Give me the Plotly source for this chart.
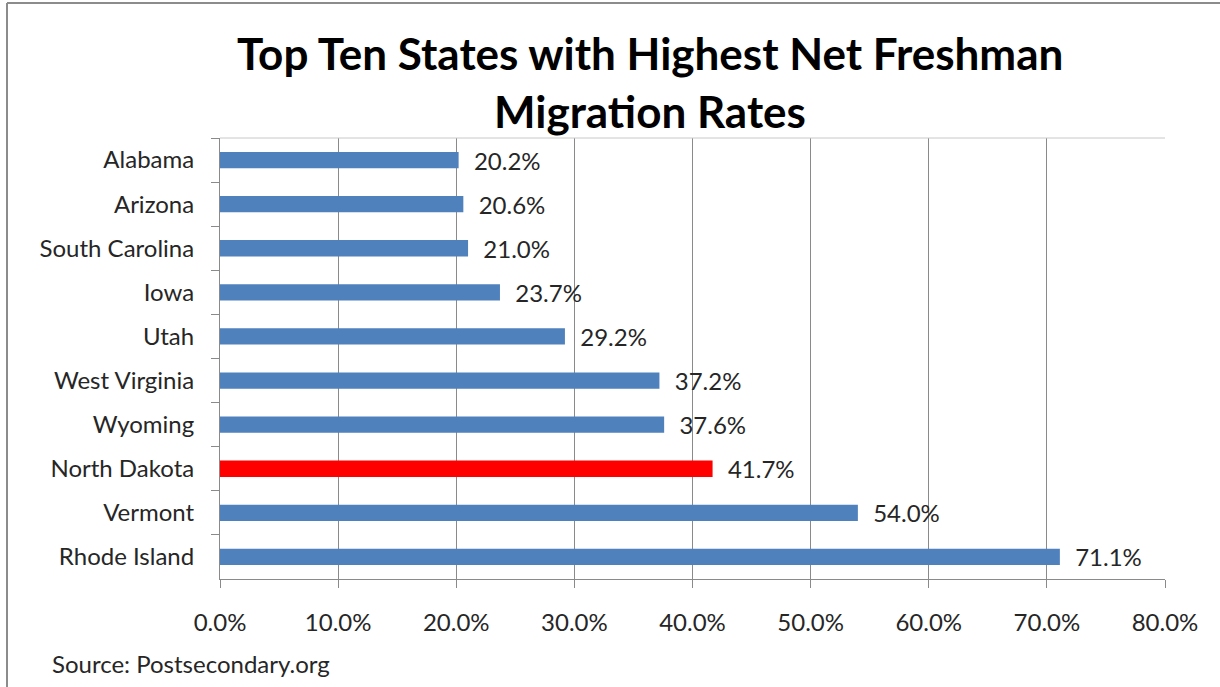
import plotly.graph_objects as go

states = ["Alabama", "Arizona", "South Carolina", "Iowa", "Utah",
          "West Virginia", "Wyoming", "North Dakota", "Vermont", "Rhode Island"]
rates = [20.2, 20.6, 21.0, 23.7, 29.2, 37.2, 37.6, 41.7, 54.0, 71.1]
highlight = "North Dakota"
x_ticks = [0, 10, 20, 30, 40, 50, 60, 70, 80]
x_tick_labels = [f"{v:.1f}%" for v in x_ticks]
title_lines = ["Top Ten States with Highest Net Freshman", "Migration Rates"]
source = "Source: Postsecondary.org"

W, H = 1220, 687
L, R, T, B = 220, 55, 138, 108
pw, ph = W - L - R, H - T - B

def px_x(p):
    return (p - L) / pw

def px_y(p):
    return (H - B - p) / ph

FONT = "Lato, 'Open Sans', sans-serif"
TXT = "#262626"
GRID = "#8a8a8a"

colors = ["#FF0000" if s == highlight else "#4F81BD" for s in states]

fig = go.Figure(go.Bar(
    x=rates, y=states, orientation="h",
    marker=dict(color=colors, line=dict(width=0)),
    text=[f"\u00a0\u00a0{v:.1f}%" for v in rates],
    textposition="outside", constraintext="none",
    textfont=dict(family=FONT, size=24, color=TXT),
    cliponaxis=False,
))

# title as two centred lines
annotations = [
    dict(text=f"<b>{line}</b>", showarrow=False, xref="paper", yref="paper",
         x=px_x(650), y=px_y(yc), xanchor="center", yanchor="middle",
         font=dict(family=FONT, size=44, color="#000"))
    for line, yc in zip(title_lines, [53, 111])
]
annotations.append(dict(
    text=source, showarrow=False,
    xref="paper", yref="paper", x=px_x(50), y=px_y(663),
    xanchor="left", yanchor="middle",
    font=dict(family=FONT, size=24, color=TXT),
))

fig.update_layout(
    width=W, height=H,
    margin=dict(l=L, r=R, t=T, b=B),
    paper_bgcolor="white", plot_bgcolor="white",
    bargap=0.63,
    showlegend=False,
    xaxis=dict(
        range=[0, 80], tickvals=x_ticks, ticktext=x_tick_labels,
        showgrid=True, gridcolor=GRID, gridwidth=1,
        showline=True, linecolor=GRID, linewidth=1,
        ticks="outside", ticklen=8, tickcolor=GRID,
        ticklabelstandoff=14,
        tickfont=dict(family=FONT, size=24, color=TXT),
        zeroline=False, fixedrange=True,
    ),
    yaxis=dict(
        autorange="reversed",
        showline=True, linecolor=GRID, linewidth=1,
        ticks="outside", ticklen=8, tickcolor=GRID, tickson="boundaries",
        ticklabelstandoff=20,
        tickfont=dict(family=FONT, size=24, color=TXT),
        showgrid=False, fixedrange=True,
    ),
    annotations=annotations,
    shapes=[
        # light frame on the top of the plot area
        dict(type="line", xref="paper", yref="paper", x0=0, x1=1, y0=1, y1=1,
             line=dict(color="#c8c8c8", width=1)),
        # outer chart border (partly cropped in the original)
        dict(type="line", xref="paper", yref="paper",
             x0=px_x(7), x1=px_x(7), y0=px_y(3), y1=px_y(H + 5),
             line=dict(color="#8c8c8c", width=2)),
        dict(type="line", xref="paper", yref="paper",
             x0=px_x(7), x1=px_x(W + 5), y0=px_y(3), y1=px_y(3),
             line=dict(color="#8c8c8c", width=2)),
    ],
)

# drop the default page margin so the figure sits at the window's corner
fig.write_html("out.html", config={"displayModeBar": False},
               post_script="document.body.style.margin='0';")
